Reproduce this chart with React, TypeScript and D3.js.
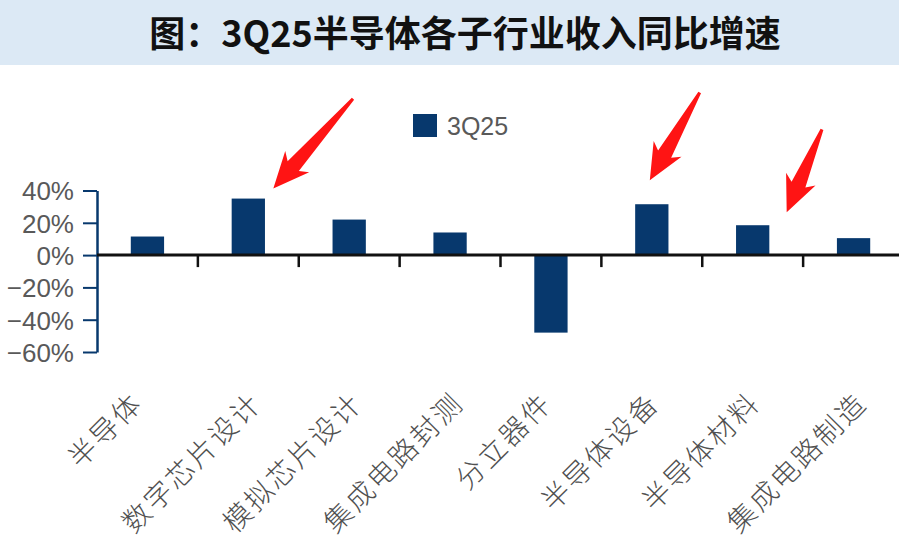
import * as d3 from "d3";
import { useEffect, useRef } from "react";

// 数据
const categories = [
  "半导体",
  "数字芯片设计",
  "模拟芯片设计",
  "集成电路封测",
  "分立器件",
  "半导体设备",
  "半导体材料",
  "集成电路制造",
];
const values3Q25 = [11.5, 35, 22, 14, -48, 31.5, 18.5, 10.5];
const yTicks = [40, 20, 0, -20, -40, -60];
const seriesName = "3Q25";
const title = "图：3Q25半导体各子行业收入同比增速";

// 红色箭头标注（相对柱顶的偏移）
const arrowNotes = [
  { cat: "数字芯片设计", dx: 25, dy: -10, len: 120, angle: 131.6 },
  { cat: "半导体设备", dx: -2, dy: -24, len: 101, angle: 119.6 },
  { cat: "半导体材料", dx: 34, dy: -13, len: 90, angle: 113.1 },
];

const W = 899;
const H = 559;
const NAVY = "#07386d";
const GRAY = "#595959";

export default function App() {
  const ref = useRef<SVGSVGElement>(null);

  useEffect(() => {
    const svg = d3.select(ref.current);
    svg.selectAll("*").remove();

    // 标题栏
    svg.append("rect").attr("x", 0).attr("y", 0).attr("width", W).attr("height", 65).attr("fill", "#dce9f5");
    svg
      .append("text")
      .attr("x", 465)
      .attr("y", 47)
      .attr("text-anchor", "middle")
      .attr("font-family", "'Noto Sans CJK SC', sans-serif")
      .attr("font-weight", 700)
      .attr("font-size", 36)
      .attr("fill", "#111")
      .text(title);

    const x = d3.scaleBand().domain(categories).range([97, 904]).padding(0);
    const y = d3.scaleLinear().domain([-60, 40]).range([352, 190.5]);
    const barW = x.bandwidth() * 0.33;

    // y 轴
    const yAxis = svg
      .append("g")
      .attr("transform", "translate(97,0)")
      .call(
        d3
          .axisLeft(y)
          .tickValues(yTicks)
          .tickSize(14)
          .tickSizeOuter(0)
          .tickPadding(9)
          .tickFormat((d) => `${d}%`.replace("-", "−"))
      );
    yAxis.select(".domain").attr("stroke", NAVY).attr("stroke-width", 2.5);
    yAxis.selectAll(".tick line").attr("stroke", NAVY).attr("stroke-width", 2);
    yAxis
      .selectAll(".tick text")
      .attr("fill", GRAY)
      .attr("font-family", "'Liberation Sans', Arial, sans-serif")
      .attr("font-size", 26)
      .attr("dy", "0.36em");

    // 柱子
    svg
      .append("g")
      .selectAll("rect")
      .data(values3Q25)
      .enter()
      .append("rect")
      .attr("x", (_, i) => (x(categories[i]) as number) + (x.bandwidth() - barW) / 2)
      .attr("y", (d) => y(Math.max(0, d)))
      .attr("width", barW)
      .attr("height", (d) => Math.abs(y(d) - y(0)))
      .attr("fill", NAVY);

    // x 轴
    const y0 = y(0);
    svg
      .append("line")
      .attr("x1", 97)
      .attr("x2", W)
      .attr("y1", y0)
      .attr("y2", y0)
      .attr("stroke", "#111")
      .attr("stroke-width", 3);
    const bounds = categories.map((c) => x(c) as number).slice(1);
    svg
      .append("g")
      .selectAll("line")
      .data(bounds)
      .enter()
      .append("line")
      .attr("x1", (d) => d)
      .attr("x2", (d) => d)
      .attr("y1", y0)
      .attr("y2", y0 + 12)
      .attr("stroke", "#111")
      .attr("stroke-width", 2.5);

    // 类别标签（旋转 -45°）
    svg
      .append("g")
      .selectAll("text")
      .data(categories)
      .enter()
      .append("text")
      .attr("transform", (d) => {
        const cx = (x(d) as number) + x.bandwidth() / 2 + 6 * (d.length - 3.8) + 2;
        return `translate(${cx},405) rotate(-45)`;
      })
      .attr("text-anchor", "end")
      .attr("font-family", "'Noto Sans CJK SC', sans-serif")
      .attr("font-weight", 300)
      .attr("font-size", 28)
      .attr("letter-spacing", 2.5)
      .attr("fill", "#505050")
      .text((d) => d);

    // 图例
    svg.append("rect").attr("x", 413).attr("y", 114).attr("width", 24).attr("height", 23).attr("fill", NAVY);
    svg
      .append("text")
      .attr("x", 447)
      .attr("y", 135)
      .attr("font-family", "'Liberation Sans', Arial, sans-serif")
      .attr("font-size", 25)
      .attr("fill", GRAY)
      .text(seriesName);

    // 红色箭头
    const h = 36;
    const hw = 16;
    const sw = 7.5;
    const tw = 1.5;
    arrowNotes.forEach((a) => {
      const i = categories.indexOf(a.cat);
      const tipX = (x(a.cat) as number) + x.bandwidth() / 2 + a.dx;
      const tipY = y(values3Q25[i]) + a.dy;
      const L = a.len;
      const pts: [number, number][] = [
        [0, 0],
        [-h, -hw],
        [-h + 6, -sw],
        [-L, -tw],
        [-L, tw],
        [-h + 6, sw],
        [-h, hw],
      ];
      svg
        .append("path")
        .attr("d", d3.line()(pts) + "Z")
        .attr("fill", "#ff1414")
        .attr("transform", `translate(${tipX},${tipY}) rotate(${a.angle})`);
    });
  }, []);

  return (
    <svg
      ref={ref}
      width={W}
      height={H}
      style={{ position: "absolute", left: 0, top: 0, background: "#fff" }}
    />
  );
}
